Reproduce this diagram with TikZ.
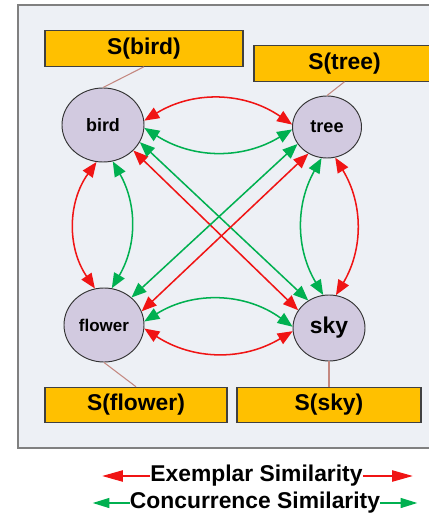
\documentclass[tikz,border=0pt]{standalone}
\usepackage{fontspec}
\setmainfont{Liberation Sans}
\usetikzlibrary{positioning,arrows.meta,shapes.geometric}
\definecolor{exred}{RGB}{240,20,20}
\definecolor{cogreen}{RGB}{0,176,80}
\definecolor{boxorange}{RGB}{255,192,0}
\definecolor{nodefill}{RGB}{210,202,224}
\definecolor{panel}{RGB}{237,240,245}
\definecolor{tiecol}{RGB}{196,136,128}

\tikzset{
  concept/.style={ellipse,draw=black!80,line width=0.8pt,fill=nodefill,inner sep=0pt},
  setbox/.style={draw=black!75,line width=1pt,fill=boxorange,inner sep=0pt,minimum height=1.06cm,
    font=\fontsize{19.5}{22}\selectfont\bfseries},
  tie/.style={draw=tiecol,line width=0.9pt},
  exemplar/.style={draw=exred,line width=1.3pt,
    {Triangle[length=0.45cm,width=0.36cm]}-{Triangle[length=0.45cm,width=0.36cm]}},
  concurrence/.style={draw=cogreen,line width=1.3pt,
    {Triangle[length=0.45cm,width=0.36cm]}-{Triangle[length=0.45cm,width=0.36cm]}},
  keytext/.style={inner sep=0pt,font=\fontsize{19.5}{22}\selectfont\bfseries}
}

\begin{document}
\begin{tikzpicture}[x=0.03cm,y=-0.03cm]
  \useasboundingbox (0,0) rectangle (429,513);
  \draw[fill=panel,draw=gray,line width=1.6pt] (18,5) rectangle (445,448);

  % the four concepts
  \node[concept,minimum width=2.46cm,minimum height=2.22cm,font=\fontsize{15.3}{18}\selectfont\bfseries] (bird) at (103,125) {bird};
  \node[concept,minimum width=2.07cm,minimum height=1.86cm,font=\fontsize{15.5}{18}\selectfont\bfseries] (tree) at (327,127) {tree};
  \node[concept,minimum width=2.4cm,minimum height=2.22cm,font=\fontsize{14.5}{17}\selectfont\bfseries] (flower) at (104,325) {flower};
  \node[concept,minimum width=2.16cm,minimum height=1.98cm,font=\fontsize{19.5}{22}\selectfont\bfseries] (sky) at (329,328) {sky};

  % their sets
  \node[setbox,minimum width=5.94cm] (sbird) at (144,48.5) {S(bird)};
  \node[setbox,minimum width=5.43cm] (stree) at (344.5,63.5) {S(tree)};
  \node[setbox,minimum width=5.46cm] (sflower) at (136,405) {S(flower)};
  \node[setbox,minimum width=5.52cm] (ssky) at (329,405) {S(sky)};

  \draw[tie] (bird.north) -- (sbird.south);
  \draw[tie] (tree.north) -- (stree.south);
  \draw[tie] (flower.south) -- (sflower.north);
  \draw[tie] (sky.south) -- (ssky.north);

  % similarities
  \draw[exemplar] (bird.6) to[bend left=33] (tree.176);
  \draw[concurrence] (bird.-4) to[bend right=32] (tree.-176);
  \draw[concurrence] (flower.5) to[bend left=34] (sky.178);
  \draw[exemplar] (flower.-5) to[bend right=32] (sky.-175);
  \draw[exemplar] (bird.-100) to[bend right=35] (flower.104);
  \draw[concurrence] (bird.-75) to[bend left=30] (flower.78);
  \draw[concurrence] (tree.-100) to[bend right=30] (sky.100);
  \draw[exemplar] (tree.-75) to[bend left=31] (sky.78);
  \draw[exemplar] (bird.-40) -- (sky.150);
  \draw[concurrence] (bird.-25) -- (sky.127);
  \draw[concurrence] (tree.-150) -- (flower.45);
  \draw[exemplar] (tree.-125) -- (flower.20);

  % key
  \node[keytext] (exlabel) at (256.5,476) {Exemplar Similarity};
  \node[keytext] (colabel) at (255,503) {Concurrence Similarity};
  \coordinate[left=1.44cm of exlabel] (exleft);
  \coordinate[right=1.5cm of exlabel] (exright);
  \coordinate[left=1.11cm of colabel] (coleft);
  \coordinate[right=1.11cm of colabel] (coright);
  \draw[draw=exred,line width=1.1pt,-{Triangle[length=0.62cm,width=0.34cm]}] (exlabel) -- (exleft);
  \draw[draw=exred,line width=1.1pt,-{Triangle[length=0.62cm,width=0.34cm]}] (exlabel) -- (exright);
  \draw[draw=cogreen,line width=1.1pt,-{Triangle[length=0.5cm,width=0.3cm]}] (colabel) -- (coleft);
  \draw[draw=cogreen,line width=1.1pt,-{Triangle[length=0.5cm,width=0.3cm]}] (colabel) -- (coright);
\end{tikzpicture}
\end{document}
